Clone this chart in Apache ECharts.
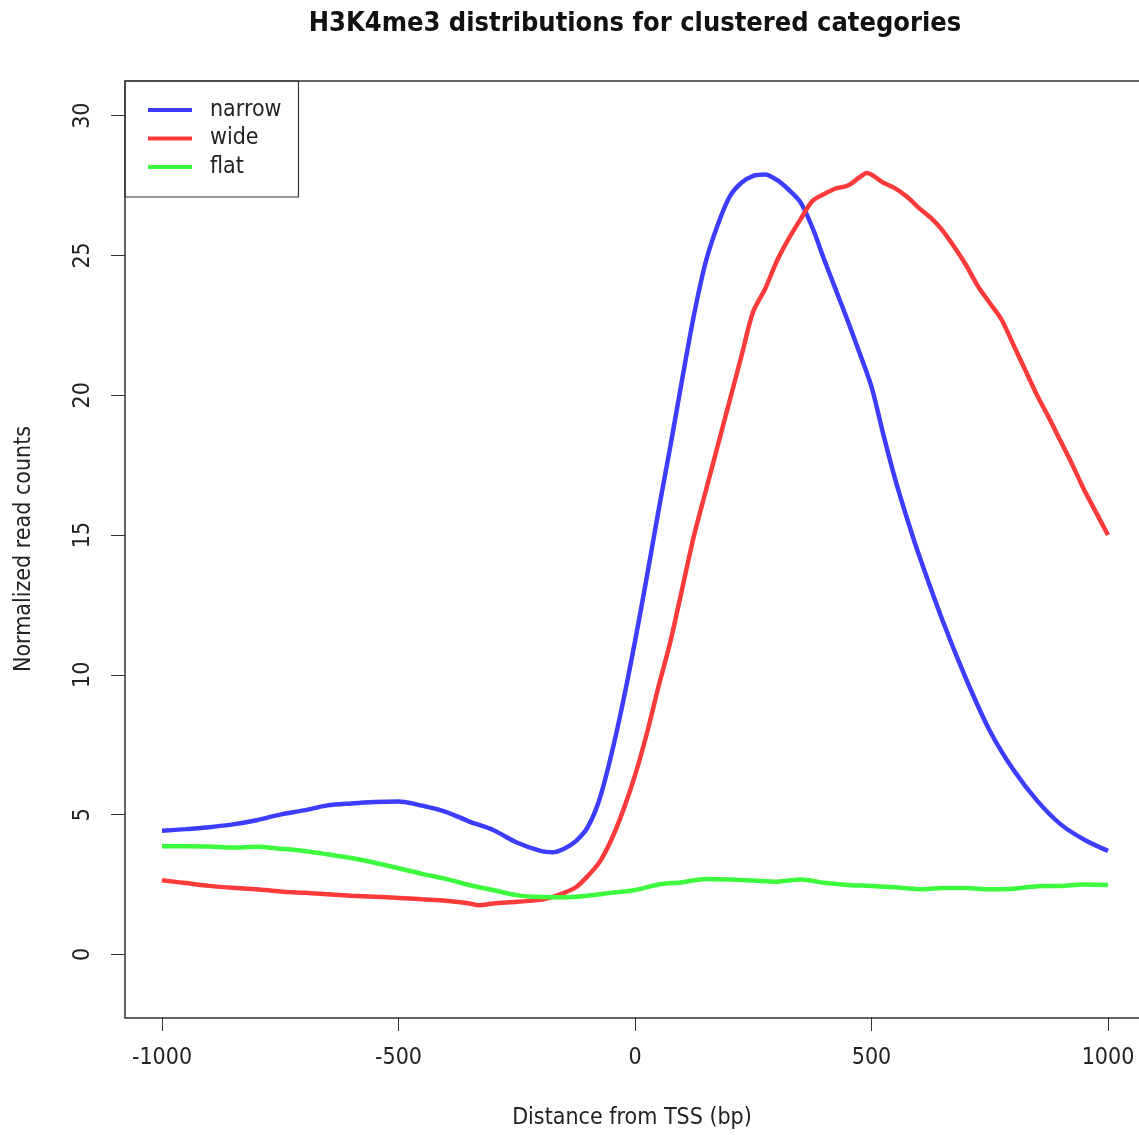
<!DOCTYPE html>
<html><head><meta charset="utf-8">
<script src="https://cdn.jsdelivr.net/npm/echarts@6/dist/echarts.min.js"></script>
<style>html,body{margin:0;padding:0;background:#fff;overflow:hidden}#c{width:1139px;height:1135px}</style>
</head><body><div id="c"></div>
<script>
const FONT = "'Liberation Sans Narrow','Noto Sans ExtraCondensed','DejaVu Sans Condensed','Liberation Sans',sans-serif";

const titleText = 'H3K4me3 distributions for clustered categories';
const xName = 'Distance from TSS (bp)';
const yName = 'Normalized read counts';
const seriesNames = ['narrow', 'wide', 'flat'];
const xTicks = [-1000, -500, 0, 500, 1000];
const yTicks = [0, 5, 10, 15, 20, 25, 30];

const narrowX = [-1000,-950,-900,-850,-800,-750,-700,-650,-600,-550,-500,-450,-400,-350,-300,-250,-200,
  -175,-150,-125,-100,-75,-50,-25,0,25,50,75,100,125,150,175,200,225,250,275,300,325,350,375,400,
  425,450,475,500,525,550,575,600,650,700,750,800,850,900,950,1000];
const narrowY = [4.42,4.48,4.55,4.65,4.8,5.0,5.15,5.33,5.4,5.45,5.47,5.32,5.1,4.75,4.45,4.0,3.7,
  3.65,3.78,4.05,4.55,5.55,7.15,9.05,11.2,13.5,15.9,18.2,20.6,22.9,24.8,26.1,27.1,27.6,27.85,27.9,27.7,27.35,26.9,26.0,24.85,
  23.75,22.65,21.5,20.3,18.6,17.0,15.6,14.3,11.95,9.85,8.0,6.6,5.5,4.65,4.1,3.7];

const wideX = [-1000,-950,-900,-850,-800,-750,-700,-650,-600,-550,-500,-450,-400,-350,-330,-300,-250,-200,
  -175,-150,-125,-100,-75,-50,-25,0,25,50,75,100,125,150,175,200,225,250,275,300,325,350,375,400,425,450,475,
  490,525,550,575,600,625,650,675,700,725,750,775,800,825,850,875,900,925,950,975,1000];
const wideY = [2.65,2.55,2.45,2.38,2.33,2.25,2.2,2.15,2.1,2.06,2.02,1.97,1.92,1.82,1.76,1.82,1.88,1.95,
  2.05,2.2,2.4,2.8,3.3,4.1,5.15,6.4,7.9,9.6,11.2,13.1,15.0,16.6,18.2,19.8,21.4,23.0,23.8,24.8,25.6,26.3,26.95,27.2,27.4,27.5,27.8,
  27.95,27.6,27.4,27.1,26.7,26.35,25.9,25.3,24.65,23.9,23.3,22.7,21.8,20.9,20.0,19.2,18.35,17.5,16.6,15.8,15.0];

const flatX = [-1000,-950,-900,-850,-800,-750,-700,-650,-600,-550,-500,-450,-400,-350,-300,-250,-200,-150,-100,-50,
  0,50,100,150,200,250,300,350,400,450,500,550,600,650,700,750,800,850,900,950,1000];
const flatY = [3.87,3.87,3.86,3.82,3.85,3.78,3.7,3.58,3.45,3.28,3.08,2.88,2.7,2.48,2.3,2.12,2.05,2.04,2.1,2.2,
  2.3,2.5,2.58,2.7,2.68,2.64,2.6,2.68,2.56,2.48,2.45,2.4,2.33,2.37,2.37,2.33,2.35,2.44,2.45,2.5,2.48];

const colors = ['#3d3dff', '#ff3a3a', '#3cfa3c'];

function zip(xs, ys) { return xs.map((x, i) => [x, ys[i]]); }
const seriesData = [zip(narrowX, narrowY), zip(wideX, wideY), zip(flatX, flatY)];

const chart = echarts.init(document.getElementById('c'), null, { renderer: 'canvas' });
const txt = { fontFamily: FONT, fontSize: 23, color: '#222' };

chart.setOption({
  animation: false,
  backgroundColor: '#ffffff',
  graphic: [{
    type: 'text', x: 635, y: 24,
    style: { text: titleText, textAlign: 'center', textVerticalAlign: 'middle',
      fontFamily: FONT, fontSize: 27, fontWeight: 'bold', fill: '#111' }
  }, {
    type: 'rect', z: 100, silent: true,
    shape: { x: 125, y: 81, width: 1040, height: 937 },
    style: { fill: 'none', stroke: '#333', lineWidth: 1.5 }
  }],
  grid: { left: 125, top: 81, right: 0, height: 937, show: false },
  legend: {
    left: 125, top: 81, orient: 'vertical', selectedMode: false,
    borderColor: '#333', borderWidth: 1.2, padding: [17, 17, 18, 23],
    itemWidth: 44, itemHeight: 4, itemGap: 4.5, icon: 'rect',
    backgroundColor: '#fff', z: 50,
    textStyle: Object.assign({}, txt, { lineHeight: 24, padding: [0, 0, 0, 13] }),
    data: seriesNames
  },
  xAxis: {
    type: 'value', min: -1078.2, max: 1065.5,
    axisLine: { show: false, onZero: false }, splitLine: { show: false },
    axisTick: { show: true, customValues: xTicks, length: 14, lineStyle: { color: '#333', width: 1 } },
    axisLabel: Object.assign({ customValues: xTicks, margin: 30, formatter: v => String(v) }, txt),
    name: xName, nameLocation: 'middle', nameGap: 90, nameTextStyle: txt
  },
  yAxis: {
    type: 'value', min: -2.24, max: 31.24,
    axisLine: { show: false, onZero: false }, splitLine: { show: false },
    axisTick: { show: true, customValues: yTicks, length: 14, lineStyle: { color: '#333', width: 1 } },
    axisLabel: Object.assign({ customValues: yTicks, margin: 30, rotate: 90, formatter: v => String(v) }, txt),
    name: yName, nameLocation: 'middle', nameGap: 89, nameRotate: 90, nameTextStyle: txt
  },
  series: seriesNames.map((n, i) => ({
    name: n, type: 'line', data: seriesData[i], showSymbol: false, symbol: 'none',
    smooth: 0.3, color: colors[i], lineStyle: { width: 4.5, color: colors[i] },
    emphasis: { disabled: true }, z: 2 + i
  }))
});
</script></body></html>
